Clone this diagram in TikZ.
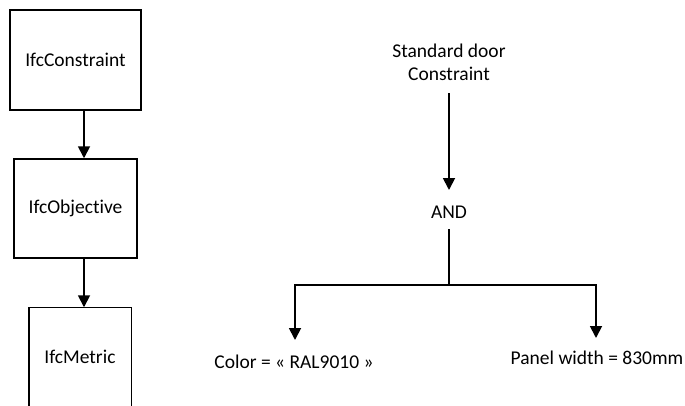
\documentclass[tikz,border=0pt]{standalone}
\usepackage{fontspec}
\setmainfont{Carlito}[Ligatures=NoCommon]
\usetikzlibrary{arrows.meta}
\begin{document}
\begin{tikzpicture}[x=1pt,y=-1pt,
  box/.style={draw, line width=1.5pt, inner sep=0pt, font=\fontsize{19.5}{23}\selectfont},
  lbl/.style={inner sep=0pt, font=\fontsize{19.5}{23}\selectfont, align=center},
  arr/.style={line width=1.8pt, -{Triangle[width=12pt,length=12pt]}},
  ln/.style={line width=1.8pt}]
\useasboundingbox (0,0) rectangle (685,405);
% left chain
\node[box, minimum width=131pt, minimum height=100pt] (c) at (75.5,60) {IfcConstraint};
\node[box, minimum width=123pt, minimum height=99pt] (o) at (75.5,208.5) {IfcObjective};
\node[box, draw=none, minimum width=101pt, minimum height=97pt] (m) at (80,356.5) {IfcMetric};
\draw[line width=1.5pt] (m.south west) -- (m.north west) -- (m.north east) -- (m.south east);
\draw[arr] (c.south -| 84,0) -- (o.north -| 84,0);
\draw[arr] (o.south -| 84,0) -- (m.north -| 84,0);
% right tree
\node[lbl] (s) at (449,62) {Standard door\\Constraint};
\node[lbl] (a) at (449,212) {AND};
\node[lbl] (col) at (294,362) {Color = « RAL9010 »};
\node[lbl] (pw) at (597,358) {Panel width = 830mm};
\coordinate (j) at (449,285);
\draw[arr] (449,93) -- (449,190);
\draw[ln] (449,229) -- (j);
\draw[arr] (j) -| (295,340);
\draw[arr] (j) -| (596,338);
\end{tikzpicture}
\end{document}
